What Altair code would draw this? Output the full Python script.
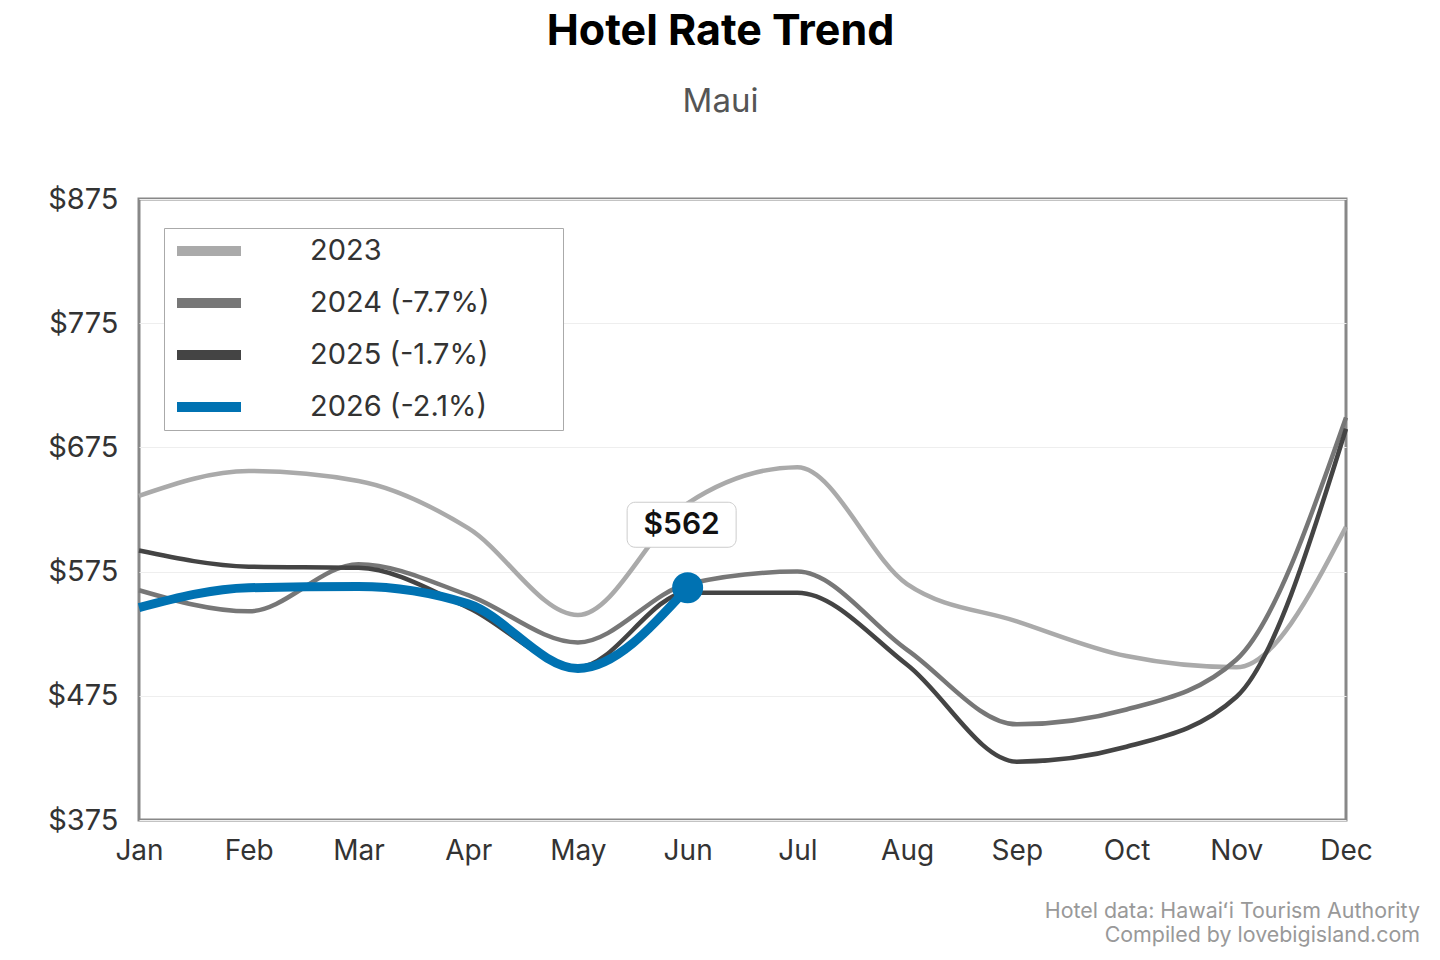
import altair as alt
import pandas as pd

months = ["Jan", "Feb", "Mar", "Apr", "May", "Jun",
          "Jul", "Aug", "Sep", "Oct", "Nov", "Dec"]

series_labels = ["2023", "2024 (-7.7%)", "2025 (-1.7%)", "2026 (-2.1%)"]
series_colors = ["#aaaaaa", "#777777", "#444444", "#0072b2"]

# average nightly rate, Maui
rates_2023 = [636, 656, 648, 610, 540, 630, 659, 565, 535, 507, 498, 611]
rates_2024 = [560, 543, 581, 556, 518, 565, 575, 512, 452, 464, 504, 699]
rates_2025 = [592, 579, 578, 546, 498, 558, 558, 500, 422, 434, 474, 690]
rates_2026 = [546, 562, 563, 549, 497, 562]

y_ticks = [375, 475, 575, 675, 775, 875]

rows = []
for label, vals in zip(series_labels, [rates_2023, rates_2024, rates_2025, rates_2026]):
    for m, v in zip(months, vals):
        rows.append({"month": m, "rate": v, "series": label})
df = pd.DataFrame(rows)
current = series_labels[-1]

# latest 2026 month gets the dot + price tag
latest = pd.DataFrame({"month": [months[len(rates_2026) - 1]], "rate": [rates_2026[-1]]})

footer = pd.DataFrame({"txt": ["Hotel data: Hawai\u02bbi Tourism Authority\nCompiled by lovebigisland.com"]})

x_enc = alt.X("month:O", sort=months, title=None,
              scale=alt.Scale(type="point", padding=0),
              axis=alt.Axis(labelAngle=0, labelFontSize=28, labelColor="#333",
                            labelPadding=17, ticks=False, domain=False, grid=False))
y_enc = alt.Y("rate:Q", title=None,
              scale=alt.Scale(domain=[375, 875], nice=False, zero=False),
              axis=alt.Axis(values=y_ticks, format="$d", labelFontSize=29, labelColor="#333",
                            labelPadding=21, ticks=False, domain=False,
                            gridColor="#eeeeee", gridWidth=1))

# trailing no-break spaces widen the legend box; the zero-width space stops them being trimmed
pad = "\u00a0" * 8 + "\u200b"
color_enc = alt.Color("series:N", sort=series_labels,
                      scale=alt.Scale(domain=series_labels, range=series_colors),
                      legend=alt.Legend(title=None, orient="none", legendX=25, legendY=29,
                                        symbolType="stroke", symbolSize=4096, symbolStrokeWidth=10,
                                        clipHeight=30, rowPadding=22, padding=8,
                                        labelOffset=64, labelFontSize=29, labelColor="#333",
                                        labelLimit=600, labelExpr="datum.label + '" + pad + "'",
                                        strokeColor="#aaaaaa", fillColor="white"))

past = alt.Chart(df).transform_filter(alt.datum.series != current).mark_line(
    interpolate="monotone", strokeWidth=4.5).encode(x=x_enc, y=y_enc, color=color_enc)
now = alt.Chart(df).transform_filter(alt.datum.series == current).mark_line(
    interpolate="monotone", strokeWidth=9).encode(x=x_enc, y=y_enc, color=color_enc)

# rounded tag box drawn as a custom symbol path
tag_path = ("M-0.853,-0.413H0.853A0.147,0.147,0,0,1,1,-0.266V0.266"
            "A0.147,0.147,0,0,1,0.853,0.413H-0.853A0.147,0.147,0,0,1,-1,0.266"
            "V-0.266A0.147,0.147,0,0,1,-0.853,-0.413Z")
tag_box = alt.Chart(latest).mark_point(shape=tag_path, size=11881, filled=True, fill="white",
                                       stroke="#cccccc", strokeWidth=1, opacity=1,
                                       xOffset=-6, yOffset=-63).encode(x=x_enc, y=y_enc)
tag_text = alt.Chart(latest).mark_text(fontSize=30, fontWeight=600, color="#111",
                                       xOffset=-6, yOffset=-63).encode(
    x=x_enc, y=y_enc, text=alt.Text("rate:Q", format="$d"))
dot = alt.Chart(latest).mark_circle(size=960, color="#0072b2", opacity=1).encode(x=x_enc, y=y_enc)

foot = alt.Chart(footer).mark_text(align="right", baseline="top", fontSize=21.4, color="#999999",
                                   lineBreak="\n", lineHeight=24).encode(
    x=alt.value(1281), y=alt.value(702), text="txt:N")

chart = alt.layer(past, now, tag_box, tag_text, dot, foot).properties(
    width=1207,
    height=621,
    autosize=alt.AutoSizeParams(type="none"),
    padding={"left": 131, "top": 191, "right": 86, "bottom": 135},
    background="white",
    title=alt.TitleParams(text="Hotel Rate Trend", subtitle="Maui", anchor="middle", dx=-22,
                          fontSize=43, fontWeight="bold", color="#000",
                          subtitleFontSize=33, subtitleColor="#555", subtitlePadding=32,
                          offset=66),
).configure(font="Inter").configure_view(stroke="#888888", strokeWidth=3)

chart.save("out.html", embed_options={"renderer": "svg", "actions": False})
